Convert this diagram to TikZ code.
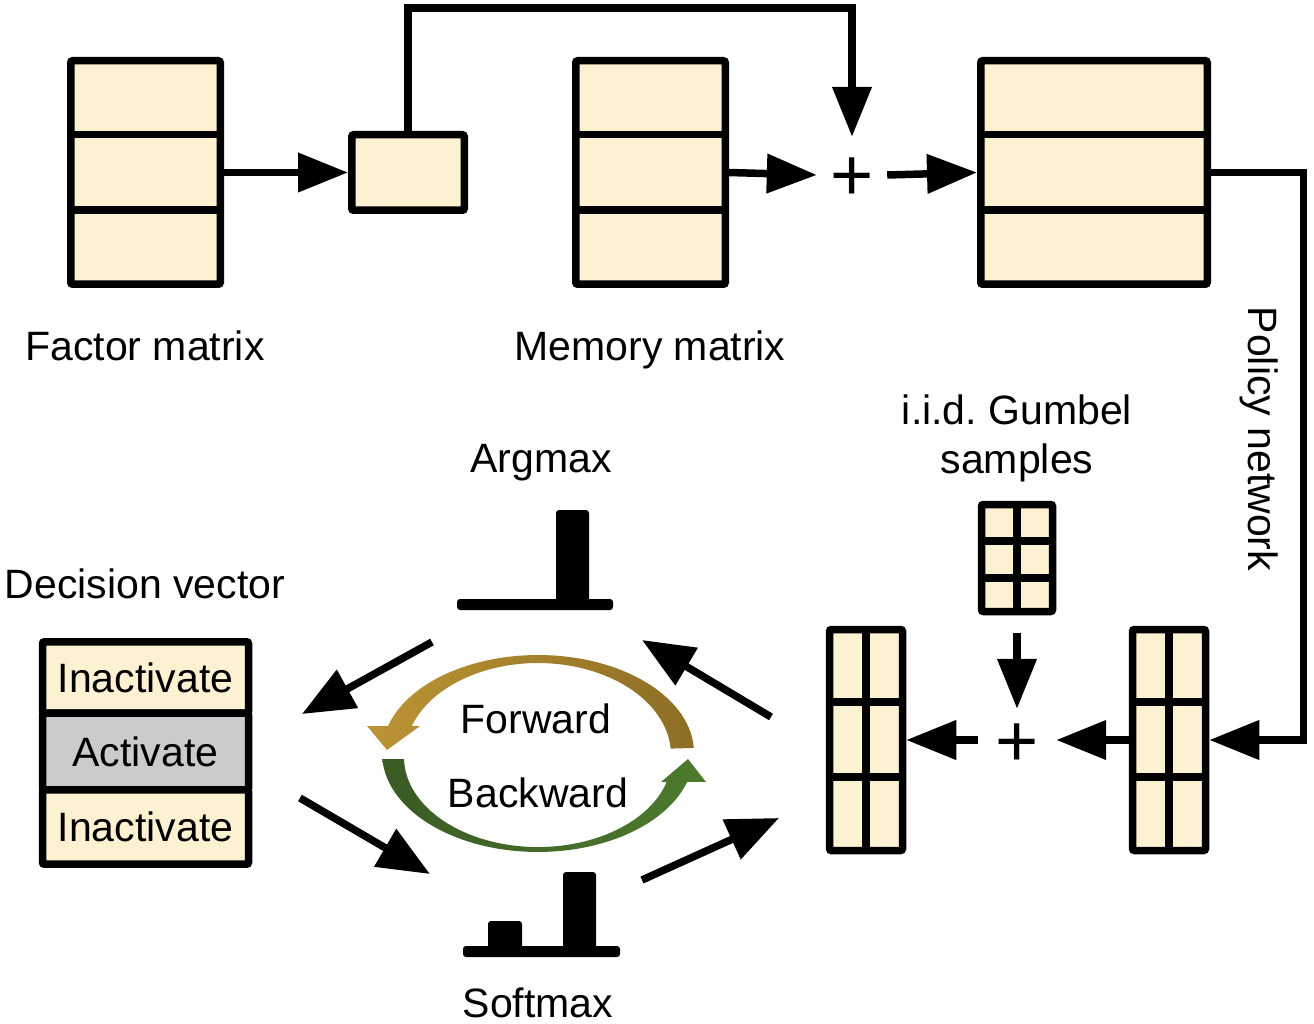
\documentclass[tikz,border=0pt]{standalone}
\usepackage{fontspec}
\setmainfont{Liberation Sans}
\usetikzlibrary{arrows.meta,calc}
\definecolor{cream}{RGB}{252,241,208}
\definecolor{cellgray}{RGB}{203,203,203}
\definecolor{fwdL}{RGB}{188,148,52}
\definecolor{fwdR}{RGB}{141,110,37}
\definecolor{bwdL}{RGB}{58,91,36}
\definecolor{bwdR}{RGB}{77,123,46}
\frenchspacing
\begin{document}
\begin{tikzpicture}[x=1pt,y=-1pt,
  box/.style={draw, fill=cream, line width=7.5pt, rounded corners=2pt, inner sep=0pt, rectangle},
  div/.style={line width=7.5pt},
  arr/.style={line width=7.5pt, -{Triangle[length=50pt,width=38pt]}},
  darr/.style={line width=7.5pt, -{Triangle[length=52pt,width=42pt]}},
  lbl/.style={inner sep=0pt, font=\fontsize{41}{49}\selectfont, text height=29.5pt, text depth=0pt},
  plusn/.style={inner sep=0pt, font=\fontsize{74}{74}\selectfont, text height=52pt, text depth=0pt},
  bar/.style={fill=black, rounded corners=3pt}]
\fill[white] (0,0) rectangle (1314,1024);
\useasboundingbox (0,0) rectangle (1314,1024);

% ---------- top row ----------
\node[box, minimum width=149.5pt, minimum height=223.5pt] (fm) at (145.5,172.5) {};
\draw[div] (fm.west |- 0,134.5) -- (fm.east |- 0,134.5);
\draw[div] (fm.west |- 0,210) -- (fm.east |- 0,210);

\node[box, minimum width=112.5pt, minimum height=75.5pt] (sm) at (408,172.5) {};

\node[box, minimum width=149.5pt, minimum height=223.5pt] (mem) at (650.5,172.5) {};
\draw[div] (mem.west |- 0,134.5) -- (mem.east |- 0,134.5);
\draw[div] (mem.west |- 0,210) -- (mem.east |- 0,210);

\node[plusn, minimum width=70pt, minimum height=76pt] (p1) at (852,175) {+};

\node[box, minimum width=226.5pt, minimum height=223.5pt] (rb) at (1094,172.5) {};
\draw[div] (rb.west |- 0,134.5) -- (rb.east |- 0,134.5);
\draw[div] (rb.west |- 0,210) -- (rb.east |- 0,210);

\node[lbl] (lfm) at (145,346) {Factor matrix};
\node[lbl] (lmem) at (650,346) {Memory matrix};

\coordinate (topc) at (852,8);
\coordinate (pn) at (1303.5,450);
\draw[arr] (fm.east) -- (sm.west);
\draw[arr] (sm.north) |- (topc) -- (p1.north);
\draw[arr] (mem.east) -- (p1.west);
\draw[arr] (p1.east) -- (rb.west);

% ---------- right lower part ----------
\node[box, minimum width=71pt, minimum height=107pt] (gm) at (1017,558) {};
\draw[div] (gm.west |- 0,541) -- (gm.east |- 0,541);
\draw[div] (gm.west |- 0,578) -- (gm.east |- 0,578);
\draw[div] (gm.north) -- (gm.south);

\node[box, minimum width=73pt, minimum height=221pt] (lm) at (866,740) {};
\draw[div] (lm.west |- 0,702) -- (lm.east |- 0,702);
\draw[div] (lm.west |- 0,777) -- (lm.east |- 0,777);
\draw[div] (lm.north) -- (lm.south);

\node[box, minimum width=73pt, minimum height=221pt] (rm) at (1169,740) {};
\draw[div] (rm.west |- 0,702) -- (rm.east |- 0,702);
\draw[div] (rm.west |- 0,777) -- (rm.east |- 0,777);
\draw[div] (rm.north) -- (rm.south);

\node[plusn, minimum width=78pt, minimum height=62pt] (p2) at (1017,740) {+};

\node[inner sep=0pt, font=\fontsize{41}{49}\selectfont, align=center, anchor=north] (lgum) at (1017,395) {i.i.d. Gumbel\\samples};
\node[lbl, rotate=-90] (lpol) at (1263.5,439) {Policy network};

\draw[arr] (rb.east) -| (pn) |- (rm.east);
\draw[arr, shorten <=18pt] (gm.south) -- (p2.north);
\draw[arr] (rm.west) -- (p2.east);
\draw[arr] (p2.west) -- (lm.east);

% ---------- decision vector ----------
\node[lbl] (ldv) at (145,584) {Decision vector};
\node[box, lbl, minimum width=206pt, minimum height=71.25pt] (dv1) at (145.5,677.4) {Inactivate};
\node[box, lbl, fill=cellgray, minimum width=206pt, minimum height=77pt] (dv2) at (145.5,751.5) {Activate};
\node[box, lbl, minimum width=206pt, minimum height=74.25pt] (dv3) at (145.5,827.1) {Inactivate};

% ---------- argmax / softmax glyphs ----------
\node[lbl] (larg) at (541,458) {Argmax};
\fill[bar] (556,510) rectangle (589,605);
\fill[bar] (457,599) rectangle (613,610);

\node[lbl] (lsoft) at (538,1003) {Softmax};
\fill[bar] (488,921) rectangle (522,949);
\fill[bar] (563,872) rectangle (596,949);
\fill[bar] (463,946) rectangle (620,957);

% ---------- black diagonal arrows ----------
\coordinate (a1s) at (432,642); \coordinate (a1e) at (302,714);
\coordinate (a2s) at (300,798); \coordinate (a2e) at (430,874);
\coordinate (a3s) at (642,880); \coordinate (a3e) at (779,818);
\coordinate (a4s) at (771,717); \coordinate (a4e) at (642,640);
\draw[darr] (a1s) -- (a1e);
\draw[darr] (a2s) -- (a2e);
\draw[darr] (a3s) -- (a3e);
\draw[darr] (a4s) -- (a4e);

% ---------- forward / backward loop ----------
\shade[left color=fwdL, right color=fwdR]
  (693.8,747.9) arc[start angle=-3, end angle=-164, x radius=156, y radius=98]
  -- (367,726) -- (387,750) -- (420,726) -- (411.8,726)
  arc[start angle=-161.6, end angle=-4, x radius=133, y radius=92] -- cycle;
\shade[left color=bwdL, right color=bwdR]
  (382.3,759) arc[start angle=176.5, end angle=17, x radius=156, y radius=99]
  -- (706,782) -- (688,759) -- (661,782) -- (666.7,782)
  arc[start angle=16.1, end angle=178.7, x radius=134, y radius=90] -- cycle;
\node[lbl] (lfwd) at (536,719) {Forward};
\node[lbl] (lbwd) at (538,793) {Backward};
\end{tikzpicture}
\end{document}
